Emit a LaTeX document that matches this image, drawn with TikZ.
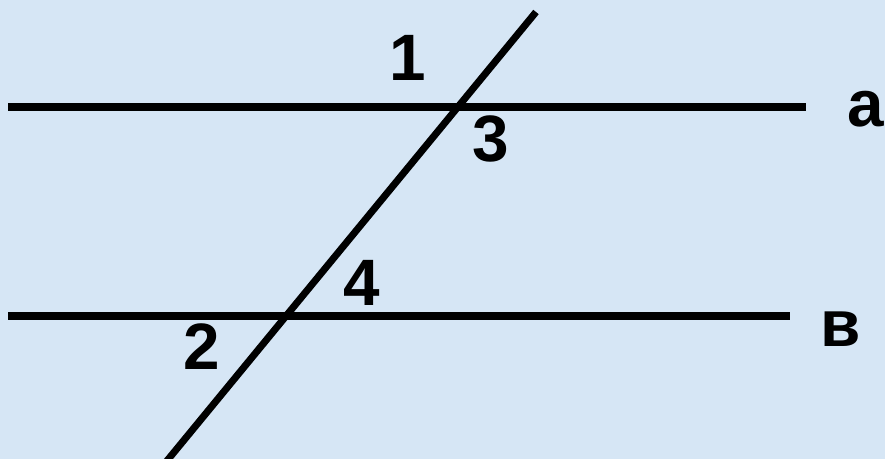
\documentclass[tikz,border=0pt]{standalone}
\usepackage{fontspec}
\setmainfont{Liberation Sans}
\definecolor{bgblue}{RGB}{214,230,245}
\tikzset{
    line/.style={line width=6pt},
    lbl/.style={inner sep=0pt, font=\fontsize{56}{56}\selectfont\bfseries}
}
\begin{document}
\begin{tikzpicture}[x=0.03cm, y=-0.03cm]
    % Background
    \fill[bgblue] (0,0) rectangle (885,459);
    \useasboundingbox (0,0) rectangle (885,459);
    % Line ends
    \coordinate (a1) at (8,107);
    \coordinate (a2) at (806,107);
    \coordinate (b1) at (8,316);
    \coordinate (b2) at (790,316);
    \coordinate (t1) at (536,12);
    \coordinate (t2) at (166,462);
    % Parallel lines and transversal
    \draw[line] (a1) -- (a2);
    \draw[line] (b1) -- (b2);
    \draw[line] (t1) -- (t2);
    % Angle numbers
    \node[lbl] (n1) at (408,58) {1};
    \node[lbl] (n3) at (491,139) {3};
    \node[lbl] (n4) at (362,283) {4};
    \node[lbl] (n2) at (202,347) {2};
    % Line names
    \node[lbl] (la) at (866,109) {а};
    \node[lbl] (lb) at (841,329) {в};
\end{tikzpicture}
\end{document}
